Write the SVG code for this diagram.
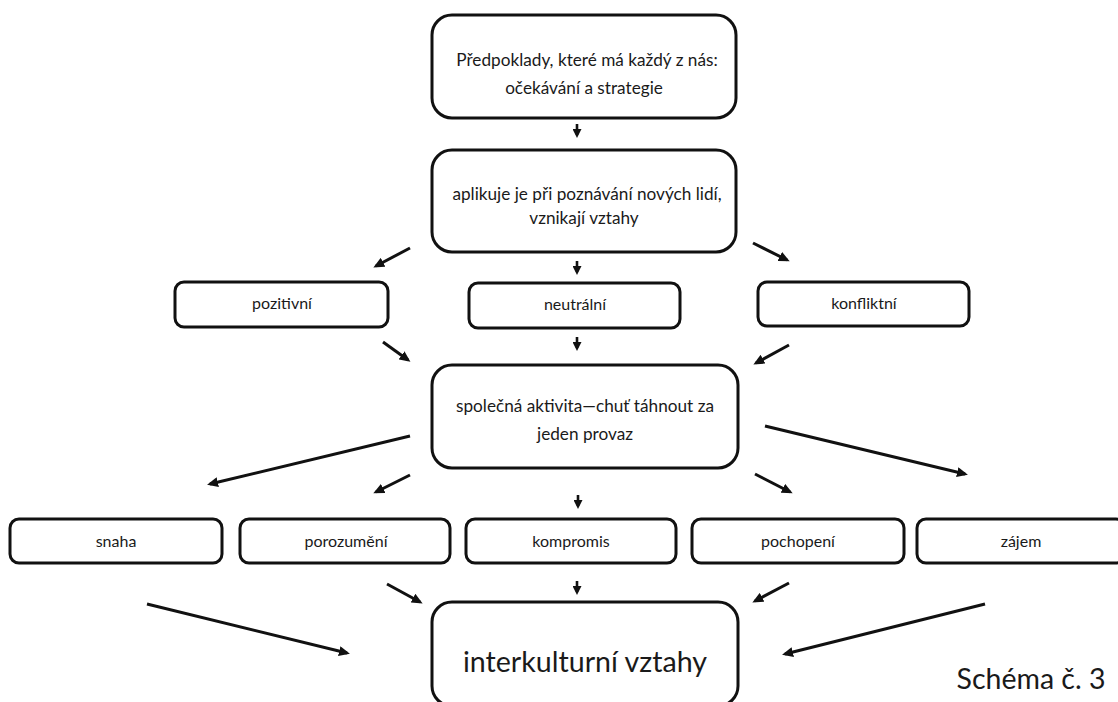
<svg xmlns="http://www.w3.org/2000/svg" width="1118" height="702" viewBox="0 0 1118 702">
<style>
.box{fill:#fff;stroke:#111;stroke-width:3}
.t{font-family:Lato,"Liberation Sans",sans-serif;fill:#1a1a1a;text-anchor:middle}
.big{font-size:17.2px}
.sm{font-size:16px}
.ar{stroke:#111;stroke-width:3;fill:none;marker-end:url(#ah)}
.av{stroke:#111;stroke-width:2.6;fill:none;marker-end:url(#ahs)}
</style>
<defs>
<marker id="ah" markerUnits="userSpaceOnUse" markerWidth="11" markerHeight="10" viewBox="0 0 11 10" refX="8" refY="5" orient="auto"><path d="M0,0 L11,5 L0,10 z" fill="#111"/></marker>
<marker id="ahs" markerUnits="userSpaceOnUse" markerWidth="9" markerHeight="9" viewBox="0 0 9 9" refX="6" refY="4.5" orient="auto"><path d="M0,0 L9,4.5 L0,9 z" fill="#111"/></marker>
</defs>
<rect width="1118" height="702" fill="#fff"/>
<g id="connectors">
<line class="av" x1="577" y1="124" x2="577" y2="135"/>
<line class="av" x1="577" y1="261" x2="577" y2="272"/>
<line class="ar" x1="410" y1="248" x2="376" y2="266"/>
<line class="ar" x1="753" y1="243" x2="787" y2="260"/>
<line class="av" x1="577" y1="337" x2="577" y2="348"/>
<line class="ar" x1="383" y1="342" x2="408" y2="360"/>
<line class="ar" x1="789" y1="345" x2="756" y2="363"/>
<line class="ar" x1="410" y1="436" x2="210" y2="484"/>
<line class="ar" x1="410" y1="475" x2="376" y2="492"/>
<line class="av" x1="578" y1="495" x2="578" y2="506"/>
<line class="ar" x1="755" y1="474" x2="790" y2="492"/>
<line class="ar" x1="765" y1="426" x2="965" y2="474"/>
<line class="ar" x1="147" y1="604" x2="347" y2="653"/>
<line class="ar" x1="387" y1="584" x2="420" y2="602"/>
<line class="av" x1="577" y1="581" x2="577" y2="592"/>
<line class="ar" x1="789" y1="583" x2="755" y2="601"/>
<line class="ar" x1="985" y1="604" x2="785" y2="654"/>
</g>
<g id="n1"><rect class="box" x="432" y="15" width="304" height="103" rx="20"/>
<text class="t big" x="587" y="66">Předpoklady, které má každý z nás:</text>
<text class="t big" x="584" y="94">očekávání a strategie</text></g>
<g id="n2"><rect class="box" x="432" y="150" width="304" height="102" rx="20"/>
<text class="t big" x="587" y="200">aplikuje je při poznávání nových lidí,</text>
<text class="t big" x="584" y="224">vznikají vztahy</text></g>
<g id="n3"><rect class="box" x="175" y="282" width="213" height="45" rx="9"/>
<text class="t sm" x="282" y="309">pozitivní</text></g>
<g id="n4"><rect class="box" x="469" y="283" width="211" height="45" rx="9"/>
<text class="t sm" x="575" y="310">neutrální</text></g>
<g id="n5"><rect class="box" x="758" y="282" width="211" height="44" rx="9"/>
<text class="t sm" x="864" y="309">konfliktní</text></g>
<g id="n6"><rect class="box" x="432" y="365" width="306" height="103" rx="20"/>
<text class="t big" x="585" y="412">společná aktivita—chuť táhnout za</text>
<text class="t big" x="585" y="440">jeden provaz</text></g>
<g id="n7"><rect class="box" x="10" y="519" width="212" height="44" rx="9"/>
<text class="t sm" x="116" y="547">snaha</text></g>
<g id="n8"><rect class="box" x="240" y="519" width="210" height="44" rx="9"/>
<text class="t sm" x="346" y="547">porozumění</text></g>
<g id="n9"><rect class="box" x="466" y="519" width="210" height="44" rx="9"/>
<text class="t sm" x="571" y="547">kompromis</text></g>
<g id="n10"><rect class="box" x="692" y="519" width="212" height="44" rx="9"/>
<text class="t sm" x="798" y="547">pochopení</text></g>
<g id="n11"><rect class="box" x="917" y="519" width="208" height="44" rx="9"/>
<text class="t sm" x="1021" y="547">zájem</text></g>
<g id="n12"><rect class="box" x="432" y="602" width="306" height="104" rx="20"/>
<text class="t" style="font-size:28.6px" x="585" y="672">interkulturní vztahy</text></g>
<g id="caption"><text class="t" style="font-size:28.5px" x="1031" y="689">Schéma č. 3</text></g>
</svg>
